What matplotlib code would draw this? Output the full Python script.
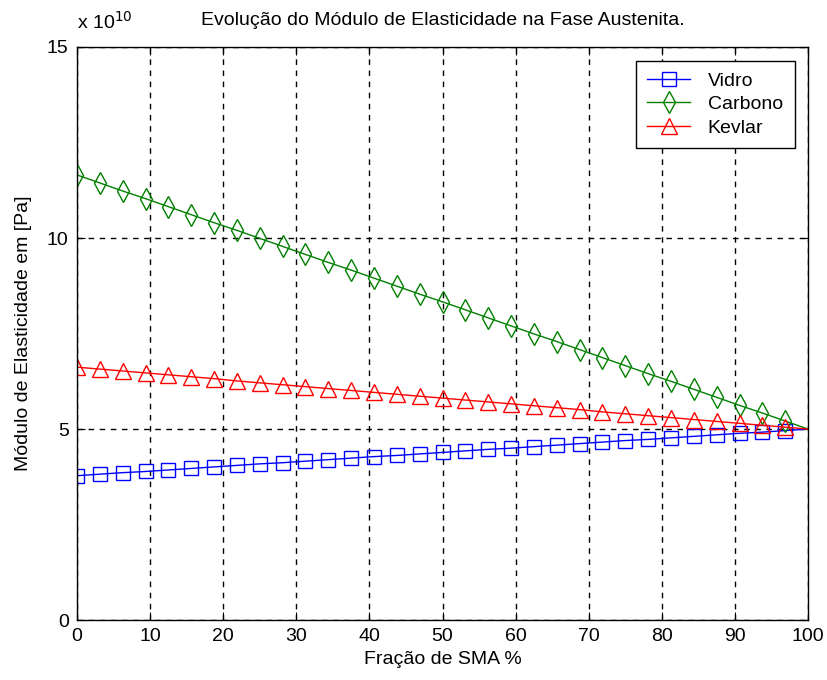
import matplotlib.pyplot as plt
import numpy as np

plt.rcParams['font.family'] = ['Liberation Sans', 'DejaVu Sans']

# fração de SMA (%) - pontos a cada 3.125
fracao = [0, 3.125, 6.25, 9.375, 12.5, 15.625, 18.75, 21.875, 25, 28.125,
          31.25, 34.375, 37.5, 40.625, 43.75, 46.875, 50, 53.125, 56.25, 59.375,
          62.5, 65.625, 68.75, 71.875, 75, 78.125, 81.25, 84.375, 87.5, 90.625,
          93.75, 96.875, 100]

# módulo de elasticidade (x 1e10 Pa)
vidro = [3.78, 3.82, 3.86, 3.89, 3.93, 3.97, 4.01, 4.05, 4.09, 4.12,
         4.16, 4.20, 4.24, 4.28, 4.31, 4.35, 4.39, 4.43, 4.47, 4.50,
         4.54, 4.58, 4.62, 4.66, 4.70, 4.73, 4.77, 4.81, 4.85, 4.89,
         4.92, 4.96, 5.00]
carbono = [11.65, 11.44, 11.23, 11.03, 10.82, 10.61, 10.40, 10.20, 9.99, 9.78,
           9.57, 9.36, 9.16, 8.95, 8.74, 8.53, 8.33, 8.12, 7.91, 7.70,
           7.49, 7.29, 7.08, 6.87, 6.66, 6.45, 6.25, 6.04, 5.83, 5.62,
           5.42, 5.21, 5.00]
kevlar = [6.62, 6.57, 6.52, 6.47, 6.42, 6.37, 6.32, 6.26, 6.21, 6.16,
          6.11, 6.06, 6.01, 5.96, 5.91, 5.86, 5.81, 5.76, 5.71, 5.66,
          5.61, 5.56, 5.51, 5.45, 5.40, 5.35, 5.30, 5.25, 5.20, 5.15,
          5.10, 5.05, 5.00]

fig = plt.figure(figsize=(8.28, 6.80), dpi=100)
ax = fig.add_axes([0.093, 0.088, 0.883, 0.843])

marcas = list(range(len(fracao) - 1))  # sem marcador no ponto 100
ax.plot(fracao, vidro, color='blue', marker='s', markersize=10, markerfacecolor='none',
        markevery=marcas, lw=1, mew=1, label='Vidro')
ax.plot(fracao, carbono, color=(0, 0.5, 0), marker='d', markersize=11, markerfacecolor='none',
        markevery=marcas, lw=1, mew=1, label='Carbono')
ax.plot(fracao, kevlar, color='red', marker='^', markersize=11, markerfacecolor='none',
        markevery=marcas, lw=1, mew=1, label='Kevlar')

ax.set_xlim(0, 100)
ax.set_ylim(0, 15)
ax.set_xticks(np.arange(0, 101, 10))
ax.set_yticks([0, 5, 10, 15])
ax.grid(True, color='black', linestyle=(0, (4, 4)), linewidth=1)
ax.tick_params(direction='in', top=True, right=True, labelsize=14, length=6, pad=6)
for s in ax.spines.values():
    s.set_linewidth(1)

ax.set_xlabel('Fração de SMA %', fontsize=14, labelpad=4)
ax.set_ylabel('Módulo de Elasticidade em [Pa]', fontsize=14, labelpad=11)
ax.set_title('Evolução do Módulo de Elasticidade na Fase Austenita.', fontsize=14, pad=16)
ax.text(0.0, 1.025, r'x 10$^{10}$', transform=ax.transAxes, fontsize=14, va='bottom')

leg = ax.legend(loc='upper right', fontsize=14, fancybox=False, edgecolor='black',
                framealpha=1, borderaxespad=0.7, handlelength=2.2, handletextpad=0.9,
                borderpad=0.6, labelspacing=0.3)
leg.get_frame().set_linewidth(1)

fig.savefig('out.png', dpi=100)
